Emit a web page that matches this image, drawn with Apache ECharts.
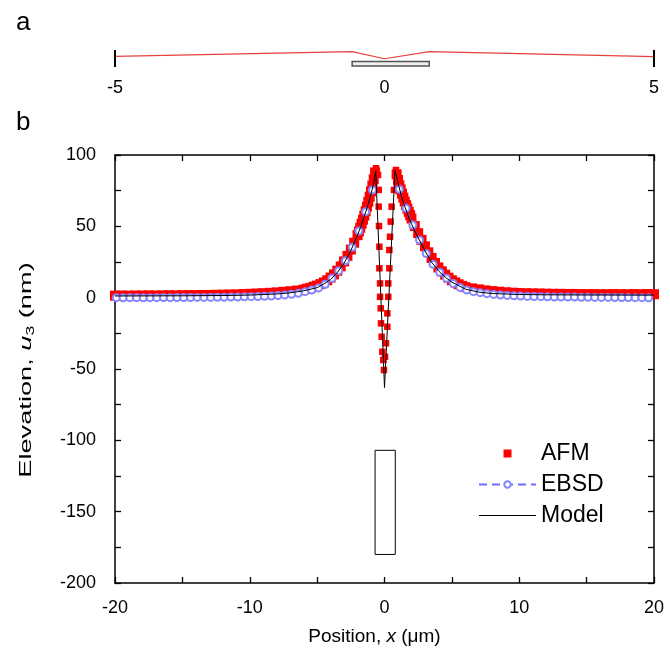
<!DOCTYPE html>
<html>
<head>
<meta charset="utf-8">
<script src="https://cdn.jsdelivr.net/npm/echarts@6/dist/echarts.min.js"></script>
<style>
  html,body{margin:0;padding:0;background:#fff;}
  #chart{width:670px;height:651px;}
</style>
</head>
<body>
<div id="chart"></div>
<script>
// panel a - coarse line profile + grain bar
var profileX = [-5, -0.6, 0, 0.83, 5];
var profileY = [0, 90, -45, 90, -5];
var barX = [-0.6, 0.83];
var barY = [-95, -180];
var profileEnds = [-5, 5];

// panel b - AFM squares, outside the grain
var afmX = [-20,-19.5,-19,-18.5,-18,-17.5,-17,-16.5,-16,-15.5,-15,-14.5,-14,-13.5,-13,-12.5,-12,-11.5,-11,-10.5,-10,-9.5,-9,-8.5,-8,-7.5,-7,-6.5,-6,
  -5.75,-5.5,-5.25,-5,-4.75,-4.5,-4.25,-4,-3.75,-3.5,-3.25,-3,-2.75,-2.5,-2.25,-2,
  -1.9,-1.8,-1.7,-1.6,-1.5,-1.4,-1.3,-1.2,-1.1,-1.0,-0.9,-0.8,-0.7,
  0.9,1.0,1.1,1.2,1.3,1.4,1.5,1.6,1.7,1.8,1.9,2.0,
  2.25,2.5,2.75,3.0,3.25,3.5,3.75,4.0,4.25,4.5,4.75,5.0,5.25,5.5,5.75,6.0,
  6.5,7,7.5,8,8.5,9,9.5,10,10.5,11,11.5,12,12.5,13,13.5,14,14.5,15,15.5,16,16.5,17,17.5,18,18.5,19,19.5,20];
var afmY = [1.4,1.5,1.4,1.5,1.5,1.6,1.5,1.6,1.7,1.6,1.7,1.8,1.8,1.9,1.9,2.0,2.1,2.2,2.3,2.5,2.7,2.9,3.1,3.4,3.7,4.1,4.5,5.0,5.6,
  6.3,6.9,7.7,8.5,9.5,10.7,12.2,14.1,16.3,18.9,21.9,25.4,29.3,33.7,38.5,43.8,
  46.4,49.0,51.8,54.6,57.5,60.6,63.8,67.2,70.8,74.6,78.6,83.0,87.8,
  86.5,82.5,78.8,75.8,72.9,70.1,67.4,64.9,62.5,60.1,57.8,55.5,
  50.2,45.2,40.5,36.0,31.8,27.8,24.3,21.2,18.5,16.1,14.0,12.2,10.7,9.4,8.3,7.4,
  6.5,5.8,5.1,4.6,4.2,3.8,3.5,3.3,3.1,3.0,2.9,2.8,2.7,2.7,2.6,2.6,2.5,2.5,2.5,2.4,2.4,2.5,2.4,2.4,2.5,2.4,2.5,2.4];

// AFM squares over the grain (the dip)
var afmCoreX = [-0.63,-0.48,-0.43,-0.43,-0.41,-0.38,-0.38,-0.33,-0.33,-0.28,-0.26,-0.21,-0.16,-0.09,-0.04,
  0.04,0.11,0.21,0.21,0.28,0.28,0.36,0.36,0.41,0.46,0.53,0.70,0.85];
var afmCoreY = [90.7,86,75.5,63.8,50.2,35.7,20.6,10,0.6,-7.5,-18,-27.4,-37.9,-43.7,-50.7,
  -41.4,-32,-20.4,-11,0.6,10,20.6,33.4,42.7,53.3,63.8,75.5,89.5];

// EBSD circles, every 0.5 um from -19.9 (null = no point near the grain)
var ebsdStart = -19.9;
var ebsdStep = 0.5;
var ebsdY = [0.0,-0.1,0.0,0.0,-0.1,0.0,0.0,0.1,0.0,0.1,0.1,0.1,0.2,0.2,0.2,0.3,0.3,0.4,0.5,0.6,0.7,
  0.8,1.0,1.2,1.5,1.9,2.4,3.1,4.2,5.4,6.8,9.4,13.6,18.9,25.9,35.3,46.7,60.3,75.5,
  null,null,null,
  76,62.6,50.9,40.4,31,23.4,17.8,13.6,10,7.2,5.4,4.2,3.5,2.8,2.3,1.9,1.6,1.3,1.1,0.9,
  0.8,0.7,0.6,0.5,0.5,0.4,0.4,0.3,0.3,0.2,0.2,0.2,0.1,0.1,0.1,0.0,0.0,-0.1];

// model curve
var modelX = [-20,-15,-12,-10,-8,-7,-6,-5,-4.5,-4,-3.5,-3,-2.5,-2,-1.75,-1.5,-1.25,-1,-0.8,-0.65,
  0,0.78,0.9,1.0,1.25,1.5,1.75,2,2.5,3,3.5,4,4.5,5,6,7,8,10,12,15,20];
var modelY = [1.2,1.3,1.5,1.8,2.6,3.4,4.8,7.0,9.6,12.8,17.6,24.2,33.0,44.0,50.0,57.0,64.5,72.5,80.5,89.0,
  -63,89.5,84.5,80.5,71.5,64.0,57.5,51.8,42.0,32.8,24.8,18.9,14.4,10.9,6.0,3.9,2.9,2.2,2.0,1.9,1.8];

// grain outline in panel b
var grainX = [-0.7, 0.8];
var grainY = [-107, -180];

var FONT = 'Liberation Sans, Arial, sans-serif';

function zip(xs, ys) {
  var out = [];
  for (var i = 0; i < xs.length; i++) out.push([xs[i], ys[i]]);
  return out;
}
var ebsdData = ebsdY.map(function (v, i) {
  return [+(ebsdStart + i * ebsdStep).toFixed(2), v == null ? '-' : v];
});

var axisCol = '#000';
function frameAxis(extra) {
  var base = {
    gridIndex: 1,
    type: 'value',
    axisLine: { show: true, onZero: false, lineStyle: { color: axisCol, width: 1.5 } },
    axisTick: { show: true, inside: true, length: 6, lineStyle: { color: axisCol, width: 1.3 } },
    splitLine: { show: false }
  };
  return Object.assign(base, extra);
}

var chart = echarts.init(document.getElementById('chart'));
chart.setOption({
  animation: false,
  backgroundColor: '#fff',
  textStyle: { fontFamily: FONT },
  grid: [
    { left: 115, right: 16, top: 50, height: 17, outerBoundsMode: 'none' },
    { left: 115, right: 16, top: 155, height: 428, outerBoundsMode: 'none' }
  ],
  graphic: [
    { type: 'text', left: 16, top: 10, style: { text: 'a', fontSize: 26, fontFamily: FONT, fill: '#000' } },
    { type: 'text', left: 16, top: 110, style: { text: 'b', fontSize: 26, fontFamily: FONT, fill: '#000' } },
    {
      // y title: drawn long and narrow like in the figure
      type: 'text', x: 26, y: 370, rotation: Math.PI / 2, scaleX: 1.6,
      style: {
        text: 'Elevation, {i|u}{s|3} (nm)', align: 'center', verticalAlign: 'middle',
        fontSize: 17, fontFamily: FONT, fill: '#000',
        rich: {
          i: { fontStyle: 'italic', fontSize: 17, fontFamily: FONT, fill: '#000' },
          s: { fontSize: 11, fontFamily: FONT, fill: '#000', padding: [9, 0, 0, 0] }
        }
      }
    }
  ],
  legend: {
    orient: 'vertical',
    left: 478,
    top: 442,
    padding: 0,
    itemWidth: 57,
    itemHeight: 8,
    itemGap: 8,
    textStyle: { fontSize: 23, fontFamily: FONT, color: '#000' },
    data: [
      { name: 'AFM', icon: 'path://M0,0L10,0L10,10L0,10Z' },
      { name: 'EBSD' },
      { name: 'Model', icon: 'path://M0,0L100,0L100,2L0,2Z' }
    ]
  },
  xAxis: [
    {
      gridIndex: 0, type: 'value', min: -5, max: 5, interval: 5,
      axisLine: { show: false }, axisTick: { show: false }, splitLine: { show: false },
      axisLabel: { color: '#000', fontSize: 18, fontFamily: FONT, margin: 12 }
    },
    frameAxis({
      min: -20, max: 20, interval: 5,
      name: 'Position, {i|x} (\u03bcm)', nameLocation: 'middle', nameGap: 44,
      nameTextStyle: { color: '#000', fontSize: 19, fontFamily: FONT, padding: [0, 20, 0, 0],
        rich: { i: { fontStyle: 'italic', fontSize: 19, fontFamily: FONT, color: '#000' } } },
      axisLabel: { color: '#000', fontSize: 18, fontFamily: FONT, margin: 16,
        formatter: function (v) { return v % 10 === 0 ? String(v) : ''; } }
    }),
    frameAxis({ min: -20, max: 20, interval: 5, position: 'top', axisLabel: { show: false } })
  ],
  yAxis: [
    { gridIndex: 0, type: 'value', min: -200, max: 120, show: false },
    frameAxis({
      min: -200, max: 100, interval: 25,
      axisLabel: { color: '#000', fontSize: 18, fontFamily: FONT, margin: 19,
        formatter: function (v) { return v % 50 === 0 ? String(v) : ''; } }
    }),
    frameAxis({ min: -200, max: 100, interval: 25, position: 'right', axisLabel: { show: false } })
  ],
  series: [
    {
      name: 'profile',
      type: 'line',
      xAxisIndex: 0, yAxisIndex: 0,
      data: zip(profileX, profileY),
      showSymbol: false,
      silent: true,
      lineStyle: { color: '#e8413c', width: 1.2 },
      markLine: {
        silent: true, symbol: 'none', label: { show: false },
        lineStyle: { color: '#000', width: 2, type: 'solid' },
        data: profileEnds.map(function (v) { return { xAxis: v }; })
      },
      markArea: {
        silent: true, label: { show: false },
        itemStyle: { color: '#eeeeee', borderColor: '#555', borderWidth: 1.5 },
        data: [[{ coord: [barX[0], barY[0]] }, { coord: [barX[1], barY[1]] }]]
      }
    },
    {
      name: 'AFM',
      type: 'scatter',
      xAxisIndex: 1, yAxisIndex: 1,
      data: zip(afmX, afmY),
      symbol: 'rect',
      symbolSize: 10,
      itemStyle: { color: '#ff0000', opacity: 1 },
      z: 2
    },
    {
      name: 'AFM',
      type: 'scatter',
      xAxisIndex: 1, yAxisIndex: 1,
      data: zip(afmCoreX, afmCoreY),
      symbol: 'rect',
      symbolSize: 6.5,
      itemStyle: { color: '#ff0000', opacity: 1 },
      z: 2
    },
    {
      name: 'EBSD',
      type: 'line',
      xAxisIndex: 1, yAxisIndex: 1,
      data: ebsdData,
      connectNulls: false,
      symbol: 'emptyCircle',
      symbolSize: 7,
      showSymbol: true,
      itemStyle: { color: '#8585ff', borderWidth: 1 },
      lineStyle: { color: '#6b6bff', width: 1, type: [8, 5] },
      z: 3
    },
    {
      name: 'Model',
      type: 'line',
      xAxisIndex: 1, yAxisIndex: 1,
      data: zip(modelX, modelY),
      showSymbol: false,
      symbol: 'none',
      lineStyle: { color: '#000', width: 1 },
      itemStyle: { color: '#000' },
      z: 4,
      markArea: {
        silent: true, label: { show: false },
        itemStyle: { color: 'rgba(255,255,255,0)', borderColor: '#000', borderWidth: 1 },
        data: [[{ coord: [grainX[0], grainY[0]] }, { coord: [grainX[1], grainY[1]] }]]
      }
    }
  ]
});
</script>
</body>
</html>
